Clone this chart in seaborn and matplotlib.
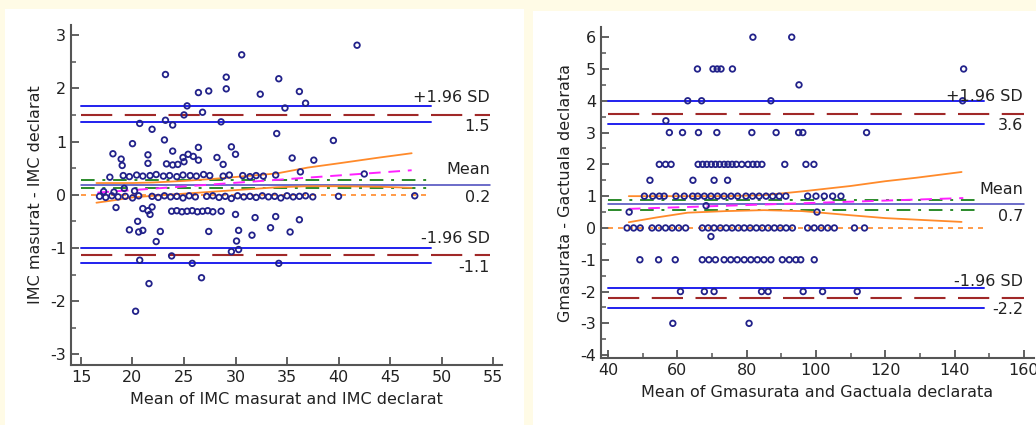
import pandas as pd
import seaborn as sns
import matplotlib.pyplot as plt
from matplotlib.patches import Rectangle
from matplotlib.ticker import MultipleLocator

# ---- left panel: IMC masurat vs IMC declarat ----
imc_x = [41.8, 30.6, 23.2, 34.2, 29.1, 29.1, 27.4, 26.4, 32.4, 36.2, 36.8, 25.3, 34.8, 26.8,
         25.0, 23.2, 28.6, 20.7, 23.9, 21.9, 34.0, 23.1, 39.5, 20.0, 29.6, 30.0, 26.4, 23.9,
         18.1, 21.5, 28.2, 35.5, 37.6, 18.9, 24.9, 25.4, 25.9, 26.4, 21.5, 19.0, 28.8, 23.3,
         23.9, 24.4, 25.0, 36.3, 42.5, 17.8, 19.2,
         # row near 0.36
         19.1, 19.7, 20.4, 21.0, 21.7, 22.3, 23.0, 23.6, 24.3, 24.9, 25.6, 26.2, 26.9, 27.5,
         28.8, 29.4, 30.7, 31.4, 32.0, 32.7, 33.9,
         # row near 0
         16.8, 17.4, 18.0, 18.6, 19.3, 20.0, 20.6, 21.9, 22.5, 23.1, 23.7, 24.3, 24.9, 25.5,
         26.1, 27.2, 27.8, 28.4, 29.0, 29.6, 30.2, 30.8, 31.4, 32.0, 32.6, 33.2, 33.8, 34.4,
         35.0, 35.6, 36.2, 36.8, 37.5, 40.0, 47.4, 17.2, 18.2, 20.2,
         # row near -0.3
         23.8, 24.3, 24.8, 25.3, 25.8, 26.3, 26.8, 27.3, 27.8, 28.6, 21.0, 21.5, 21.9, 21.7,
         30.0, 31.9, 33.9, 36.2, 18.4,
         # lower scatter
         20.5, 19.7, 21.0, 20.6, 22.7, 30.3, 27.4, 33.4, 35.3, 31.6, 22.3, 30.1, 29.6, 30.3,
         20.7, 23.8, 25.8, 34.2, 26.7, 21.6, 20.3]
imc_y = [2.81, 2.63, 2.26, 2.18, 2.21, 1.99, 1.95, 1.92, 1.89, 1.94, 1.72, 1.67, 1.63, 1.55,
         1.50, 1.40, 1.37, 1.34, 1.31, 1.23, 1.15, 1.03, 1.02, 0.96, 0.90, 0.76, 0.89, 0.82,
         0.77, 0.75, 0.70, 0.69, 0.65, 0.67, 0.70, 0.76, 0.72, 0.65, 0.59, 0.55, 0.57, 0.58,
         0.56, 0.57, 0.62, 0.43, 0.39, 0.33, 0.12,
         0.36, 0.34, 0.37, 0.35, 0.36, 0.38, 0.35, 0.36, 0.34, 0.37, 0.36, 0.35, 0.38, 0.36,
         0.35, 0.37, 0.36, 0.34, 0.36, 0.35, 0.37,
         -0.03, -0.05, -0.02, -0.04, -0.03, -0.06, -0.02, -0.03, -0.05, -0.02, -0.04, -0.03,
         -0.06, -0.02, -0.04, -0.03, -0.02, -0.05, -0.03, -0.07, -0.02, -0.04, -0.03, -0.05,
         -0.02, -0.04, -0.03, -0.06, -0.02, -0.04, -0.03, -0.02, -0.04, -0.03, -0.02, 0.06,
         0.05, 0.07,
         -0.31, -0.30, -0.32, -0.31, -0.30, -0.32, -0.31, -0.30, -0.32, -0.31, -0.26, -0.30,
         -0.23, -0.37, -0.37, -0.43, -0.41, -0.47, -0.24,
         -0.50, -0.66, -0.67, -0.70, -0.69, -0.67, -0.69, -0.62, -0.70, -0.76, -0.88, -0.87,
         -1.07, -1.03, -1.23, -1.15, -1.29, -1.29, -1.56, -1.67, -2.19]
imc_mean = 0.19
imc_mean_ci = [0.12, 0.27]
imc_loa = [1.50, -1.14]
imc_loa_ci = [1.36, 1.66, -1.29, -1.00]
imc_reg_x = [16.6, 47.1]
imc_reg_y = [0.04, 0.46]
imc_band_x = [16.5, 18, 20, 22, 25, 28, 31, 34, 37, 40, 44, 47.1]
imc_band_up = [0.22, 0.22, 0.22, 0.23, 0.26, 0.30, 0.35, 0.40, 0.51, 0.59, 0.70, 0.78]
imc_band_lo = [-0.15, -0.11, -0.05, -0.02, 0.02, 0.06, 0.10, 0.14, 0.16, 0.16, 0.15, 0.13]
imc_labels = ["+1.96 SD", "1.5", "Mean", "0.2", "-1.96 SD", "-1.1"]

# ---- right panel: Gmasurata vs Gactuala declarata ----
g_levels = [6, 5, 4.5, 4, 3.37, 3, 2, 1.5, 1, 0.5, 0.7, 0, -0.27, -1, -2, -3]
g_xs = [
    [81.8, 93.0],
    [65.8, 70.3, 71.5, 72.6, 75.9, 142.6],
    [95.1],
    [63.0, 67.0, 87.0, 142.3],
    [56.7],
    [57.7, 61.5, 66.1, 71.4, 81.5, 88.5, 95.0, 96.2, 114.6],
    [54.8, 56.6, 58.2, 66.0, 67.3, 68.5, 69.8, 71.0, 72.2, 73.5, 74.6, 75.8, 77.0, 78.6,
     80.4, 81.8, 83.0, 84.4, 91.0, 97.1, 99.4],
    [52.1, 64.5, 70.6, 74.5],
    [50.5, 52.9, 54.8, 56.2, 59.6, 62.0, 64.4, 65.9, 67.8, 69.7, 71.6, 73.5, 75.5, 77.4,
     79.8, 81.7, 83.6, 85.6, 87.5, 89.4, 91.3, 97.6, 100.0, 102.4, 104.8, 107.2],
    [46.1, 100.3],
    [68.3],
    [45.5, 47.4, 49.3, 52.7, 54.6, 56.6, 58.5, 60.4, 62.4, 67.2, 68.9, 70.6, 72.4, 74.1,
     75.8, 77.6, 79.3, 81.0, 82.8, 84.5, 86.2, 88.0, 89.7, 91.4, 93.2, 97.6, 99.5, 101.5,
     103.4, 105.3, 111.1, 114.0],
    [69.7],
    [49.2, 54.6, 59.4, 67.2, 69.1, 71.0, 73.5, 75.4, 77.3, 79.3, 81.2, 83.1, 85.0, 87.0,
     90.3, 92.3, 94.2, 95.6, 99.5],
    [60.9, 67.8, 70.6, 84.3, 86.2, 96.3, 101.9, 111.9],
    [58.7, 80.7],
]
g_mean = 0.74
g_mean_ci = [0.56, 0.88]
g_loa = [3.58, -2.20]
g_loa_ci = [3.27, 3.98, -2.53, -1.88]
g_reg_x = [46.0, 142.5]
g_reg_y = [0.60, 0.94]
g_band_x = [46, 54, 63, 74, 85, 96, 110, 120, 129, 142]
g_band_up = [1.00, 1.00, 1.00, 1.00, 1.03, 1.15, 1.32, 1.47, 1.58, 1.76]
g_band_lo = [0.18, 0.33, 0.48, 0.53, 0.56, 0.53, 0.40, 0.31, 0.26, 0.19]
g_labels = ["+1.96 SD", "3.6", "Mean", "0.7", "-1.96 SD", "-2.2"]

g_x = [x for xs in g_xs for x in xs]
g_y = [lvl for lvl, xs in zip(g_levels, g_xs) for _ in xs]

sns.set_style("ticks")
plt.rcParams["font.family"] = ["DejaVu Sans"]
plt.rcParams["axes.unicode_minus"] = False

BLUE = "#2020ee"
RED = "#a02828"
GREEN = "#2a8a2a"
MAGENTA = "#ff20ff"
ORANGE = "#ff8a2a"
NAVY = "#22228a"
TXT = "#222222"
FS = 11.5


def draw_panel(ax, x, y, mean, mean_ci, loa, loa_ci, reg_x, reg_y, band_x, band_up, band_lo,
               labels, x0, x_ci, x_full, x_green, x_txt):
    df = pd.DataFrame({"x": x, "y": y})
    for v in loa_ci:
        ax.plot([x0, x_ci], [v, v], color=BLUE, lw=1.4, zorder=2)
    for v in loa:
        ax.plot([x0, x_full], [v, v], color=RED, lw=1.5, dashes=(15, 6), zorder=2)
    for v in mean_ci:
        ax.plot([x0, x_green], [v, v], color=GREEN, lw=1.4, dashes=(7, 4, 1.5, 4), zorder=2)
    ax.plot([x0, x_full], [mean, mean], color="#4444bb", lw=1.1, zorder=2)
    ax.plot([x0, x_ci], [0, 0], color=ORANGE, lw=1.2, dashes=(3, 3), zorder=2)
    ax.plot(reg_x, reg_y, color=MAGENTA, lw=1.4, dashes=(6, 4), zorder=2)
    ax.plot(band_x, band_up, color=ORANGE, lw=1.3, zorder=2)
    ax.plot(band_x, band_lo, color=ORANGE, lw=1.3, zorder=2)
    sns.scatterplot(data=df, x="x", y="y", ax=ax, marker="o", s=16, facecolor="none",
                    edgecolor=NAVY, linewidth=1.3, zorder=3)

    lo_loa = loa[1]
    hi_loa = loa[0]
    for val, txt, off in [(hi_loa, labels[0], 12.5), (hi_loa, labels[1], -8.5),
                          (mean, labels[2], 10.8), (mean, labels[3], -9.0),
                          (lo_loa, labels[4], 12.0), (lo_loa, labels[5], -8.5)]:
        ax.annotate(txt, xy=(x_txt, val), xytext=(0, off), textcoords="offset points",
                    ha="right", va="center", fontsize=FS, color=TXT)

    sns.despine(ax=ax)
    for side in ["left", "bottom"]:
        ax.spines[side].set_color("#555555")
        ax.spines[side].set_linewidth(1.5)
    ax.tick_params(which="major", direction="in", length=6, width=1.3, color="#555555",
                   labelsize=FS, labelcolor=TXT)
    ax.tick_params(which="minor", direction="in", length=3.5, width=1.1, color="#555555")
    ax.set_facecolor("none")


fig = plt.figure(figsize=(10.36, 4.25), dpi=100, facecolor="#fffbe6")
# white panel backgrounds, kept behind the axes
fig.patches.append(Rectangle((5 / 1036, 0), 519 / 1036, 416 / 425, transform=fig.transFigure,
                             facecolor="white", edgecolor="none", zorder=-10))
fig.patches.append(Rectangle((533 / 1036, 0), 503 / 1036, 414 / 425, transform=fig.transFigure,
                             facecolor="white", edgecolor="none", zorder=-10))

ax1 = fig.add_axes([71 / 1036, 60 / 425, 431 / 1036, 340 / 425])
draw_panel(ax1, imc_x, imc_y, imc_mean, imc_mean_ci, imc_loa, imc_loa_ci, imc_reg_x, imc_reg_y,
           imc_band_x, imc_band_up, imc_band_lo, imc_labels,
           x0=15, x_ci=49, x_full=54.7, x_green=48.9, x_txt=54.7)
ax1.set_xlim(14.03, 55.87)
ax1.set_ylim(-3.2, 3.19)
ax1.xaxis.set_major_locator(MultipleLocator(5))
ax1.yaxis.set_major_locator(MultipleLocator(1))
ax1.yaxis.set_minor_locator(MultipleLocator(0.5))
ax1.set_xlabel("Mean of IMC masurat and IMC declarat", fontsize=FS, color=TXT, labelpad=5)
ax1.set_ylabel("IMC masurat - IMC declarat", fontsize=FS, color=TXT, labelpad=5)

ax2 = fig.add_axes([601 / 1036, 67 / 425, 433 / 1036, 331 / 425])
draw_panel(ax2, g_x, g_y, g_mean, g_mean_ci, g_loa, g_loa_ci, g_reg_x, g_reg_y,
           g_band_x, g_band_up, g_band_lo, g_labels,
           x0=40, x_ci=148.5, x_full=160, x_green=146.6, x_txt=159.7)
ax2.set_xlim(37.98, 162.9)
ax2.set_ylim(-4.09, 6.32)
ax2.xaxis.set_major_locator(MultipleLocator(20))
ax2.xaxis.set_minor_locator(MultipleLocator(10))
ax2.yaxis.set_major_locator(MultipleLocator(1))
ax2.yaxis.set_minor_locator(MultipleLocator(0.5))
ax2.set_xlabel("Mean of Gmasurata and Gactuala declarata", fontsize=FS, color=TXT, labelpad=5)
ax2.set_ylabel("Gmasurata - Gactuala declarata", fontsize=FS, color=TXT, labelpad=5)

fig.savefig("out.png", dpi=100, facecolor=fig.get_facecolor())
